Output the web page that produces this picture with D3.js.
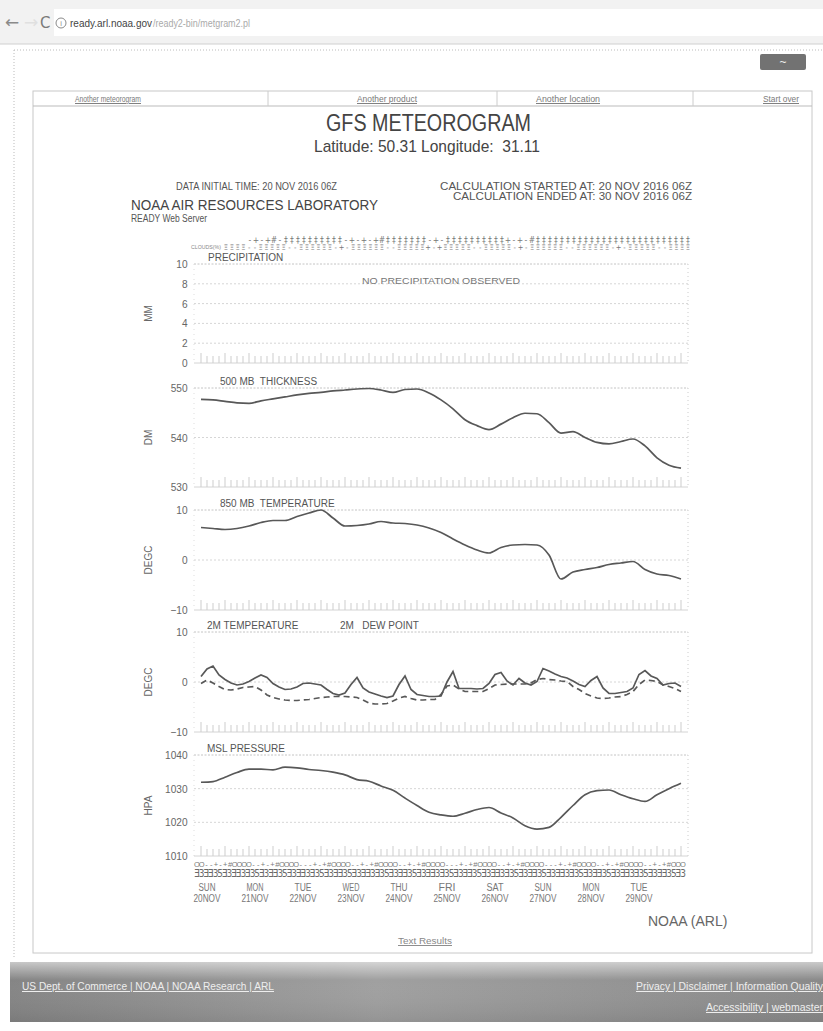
<!DOCTYPE html>
<html>
<head>
<meta charset="utf-8">
<script src="https://cdn.jsdelivr.net/npm/d3@7"></script>
<style>
  body { margin: 0; background: #fff; }
  svg { display: block; font-family: "Liberation Sans Narrow", "Arial Narrow", "Liberation Sans", sans-serif; }
</style>
</head>
<body>
<svg id="page" width="823" height="1031"></svg>
<script>
"use strict";

// time steps, hours after 20 NOV 2016 06Z
const HOURS_6 = d3.range(0, 241, 6);
const HOURS_3 = d3.range(0, 241, 3);

// 500 MB thickness (DM), 6-hourly
const thickness = [547.7, 547.6, 547.3, 547.0, 546.9, 547.4, 547.8, 548.2, 548.6, 548.9,
  549.1, 549.4, 549.6, 549.8, 549.9, 549.6, 549.1, 549.7, 549.8, 549.0,
  547.6, 545.8, 543.6, 542.4, 541.6, 542.7, 544.0, 544.9, 544.8, 543.0,
  540.9, 541.2, 540.0, 539.0, 538.7, 539.2, 539.7, 538.3, 535.9, 534.4, 533.8];

// 850 MB temperature (DEGC), 6-hourly
const temp850 = [6.5, 6.3, 6.1, 6.3, 6.8, 7.5, 7.9, 7.9, 8.7, 9.4,
  10.0, 8.4, 6.8, 6.9, 7.2, 7.7, 7.4, 7.3, 7.0, 6.4,
  5.5, 4.2, 3.0, 2.0, 1.4, 2.5, 3.0, 3.1, 3.0, 1.0,
  -3.8, -2.4, -1.9, -1.5, -0.9, -0.6, -0.3, -1.9, -2.8, -3.1, -3.8];

// MSL pressure (HPA), 6-hourly
const mslp = [1031.9, 1032.1, 1033.4, 1034.8, 1035.8, 1035.8, 1035.6, 1036.4, 1036.2, 1035.7,
  1035.4, 1034.9, 1034.1, 1032.7, 1032.2, 1030.8, 1029.5, 1027.2, 1025.0, 1023.0,
  1022.2, 1021.8, 1022.7, 1023.8, 1024.4, 1022.8, 1021.3, 1019.0, 1018.0, 1018.5,
  1021.5, 1025.0, 1028.2, 1029.4, 1029.6, 1028.2, 1027.0, 1026.2, 1028.2, 1030.0, 1031.6];

// 2M temperature (DEGC), 3-hourly
const temp2m = [1.1, 2.6, 3.2, 1.4, 0.5, -0.2, -0.6, -0.4,
  0.1, 0.8, 1.4, 0.9, -0.3, -1.0, -1.5, -1.4,
  -1.0, -0.3, -0.2, -0.4, -0.6, -1.5, -2.3, -2.6,
  -2.2, -0.5, 0.9, -1.2, -2.0, -2.4, -2.8, -3.1,
  -2.8, -0.5, 1.2, -1.5, -2.5, -2.7, -2.9, -2.9,
  -2.8, 0.0, 2.1, -1.3, -1.3, -1.3, -1.4, -1.3,
  -0.3, 1.5, 1.9, 0.2, -0.6, 0.7, -0.2, -0.6,
  0.1, 2.7, 2.2, 1.6, 1.1, 0.8, 0.2, -0.5,
  -0.9, 0.3, 1.1, -1.2, -2.3, -2.3, -2.1, -1.9,
  -1.2, 1.5, 2.3, 1.2, 0.7, -0.6, -0.3, -0.2, -0.9];

// 2M dew point (DEGC), 3-hourly
const dew2m = [-0.3, 0.4, -0.2, -0.9, -1.5, -1.6, -1.4, -1.1,
  -1.0, -0.9, -1.6, -2.6, -3.1, -3.4, -3.6, -3.7,
  -3.7, -3.6, -3.5, -3.3, -3.1, -3.0, -2.9, -2.9,
  -2.9, -3.0, -3.1, -3.6, -4.2, -4.4, -4.4, -4.3,
  -3.8, -3.2, -2.9, -3.3, -3.6, -3.6, -3.5, -3.5,
  -2.5, -0.8, -0.6, -1.4, -1.9, -1.9, -1.9, -1.9,
  -1.3, -0.6, -0.5, -0.4, -0.4, -0.4, -0.4, -0.2,
  0.5, 0.7, 0.5, 0.4, 0.2, 0.1, -0.9, -1.5,
  -2.3, -2.8, -3.2, -3.3, -3.2, -3.0, -2.9, -2.5,
  -1.9, -0.5, 0.4, 0.3, 0.1, -0.6, -0.9, -1.3, -1.9];

const dayNames = ["SUN", "MON", "TUE", "WED", "THU", "FRI", "SAT", "SUN", "MON", "TUE"];
const dayDates = ["20NOV", "21NOV", "22NOV", "23NOV", "24NOV", "25NOV", "26NOV", "27NOV", "28NOV", "29NOV"];

const precipTicks = [0, 2, 4, 6, 8, 10];
const thickTicks = [530, 540, 550];
const t850Ticks = [-10, 0, 10];
const t2mTicks = [-10, 0, 10];
const mslTicks = [1010, 1020, 1030, 1040];

// symbol rows (clouds on top, winds at bottom)
const cloudRowA = "-+-+#-\u2021\u2021\u2021\u2021\u2021\u2021\u2021\u2021\u2021\u2021-+-+-+#\u2021\u2021\u2021\u2021\u2021\u2021\u2021-+-\u2021\u2021\u2021\u2021\u2021\u2021\u2021\u2021\u2021\u2021+-+-#\u2021\u2021\u2021\u2021\u2021\u2021\u2021\u2021\u2021\u2021\u2021\u2021\u2021\u2021\u2021\u2021\u2021\u2021\u2021\u2021\u2021\u2021\u2021\u2021\u2021\u2021";
const cloudRowB = "\u039e\u039e\u039e\u039e--\u039e\u039e\u039e\u039e\u039e--\u039e\u039e\u039e\u039e\u039e\u039e-+-\u039e\u039e\u039e\u039e\u039e\u039e--\u039e\u039e\u039e\u039e\u039e+-+\u039e\u039e\u039e\u039e\u039e--\u039e\u039e\u039e\u039e\u039e-+-\u039e\u039e\u039e\u039e\u039e\u039e--\u039e\u039e\u039e\u039e\u039e\u039e-+-\u039e\u039e\u039e\u039e\u039e--\u039e\u039e\u039e\u039e";
const windRowA = "OO--+-+#OOOO--+-+#OOOO---+-+#OOOO--+-+#OOOO--+-+#OOOO---+-+#OOOO--+-+#OOOO---+-+#OOOO--+-+#OOOO--+-+#OOO";
const windRowB = "\u018e3\u018e\u018e35\u018e3\u018e\u018e3\u018e35\u018e3\u018e\u018e35\u018e3\u018e\u018e3\u018e35\u018e3\u018e\u018e35\u018e3\u018e\u018e3\u018e35\u018e3\u018e\u018e35\u018e3\u018e\u018e3\u018e35\u018e3\u018e\u018e35\u018e3\u018e\u018e3\u018e35\u018e3\u018e\u018e35\u018e3\u018e\u018e3\u018e35\u018e3\u018e\u018e35\u018e3\u018e\u018e3\u018e35\u018e3\u018e\u018e35\u018e3";

const navLinks = ["Another meteorogram", "Another product", "Another location", "Start over"];

/* ---- layout ---- */
const PLOT = { left: 194, right: 688 };
const INK = "#585858";
const NAV_POS = [[108, 66], [387, 60], [568, 64], [781, 36]]; // centre, width

const panels = [
  { name: "PRECIPITATION", unit: "MM", domain: [0, 10], ticks: precipTicks, top: 264, bottom: 363, lx: 208 },
  { name: "500 MB  THICKNESS", unit: "DM", domain: [530, 550], ticks: thickTicks, top: 388, bottom: 487, lx: 220 },
  { name: "850 MB  TEMPERATURE", unit: "DEGC", domain: [-10, 10], ticks: t850Ticks, top: 510, bottom: 610, lx: 220 },
  { name: "2M TEMPERATURE", unit: "DEGC", domain: [-10, 10], ticks: t2mTicks, top: 632, bottom: 732, lx: 207 },
  { name: "MSL PRESSURE", unit: "HPA", domain: [1010, 1040], ticks: mslTicks, top: 755, bottom: 856, lx: 207 }
];
panels.forEach((p) => {
  p.y = d3.scaleLinear().domain(p.domain).range([p.bottom, p.top]);
});

const xScale = d3.scaleLinear().domain([0, 240]).range([201, 681]);

const svg = d3.select("#page");

// squeeze a text to a given width (the original font is a narrow one)
function fit(sel, w) {
  return sel.attr("textLength", w).attr("lengthAdjust", "spacingAndGlyphs");
}

// browser chrome
svg.append("rect").attr("width", 823).attr("height", 44).attr("fill", "#f2f2f2");
svg.append("rect").attr("x", 54).attr("y", 9).attr("width", 769).attr("height", 27).attr("fill", "#fff");
svg.append("line").attr("x1", 0).attr("x2", 823).attr("y1", 44).attr("y2", 44).attr("stroke", "#d0d0d0");
svg.append("text").attr("x", 5).attr("y", 28).attr("font-size", 17).attr("fill", "#8a8a8a")
  .style("font-family", "DejaVu Sans").text("\u2190");
svg.append("text").attr("x", 24).attr("y", 28).attr("font-size", 17).attr("fill", "#e0e0e0")
  .style("font-family", "DejaVu Sans").text("\u2192");
svg.append("text").attr("x", 40).attr("y", 28).attr("font-size", 15).attr("fill", "#7a7a7a")
  .style("font-family", "DejaVu Sans").text("C");
svg.append("circle").attr("cx", 61).attr("cy", 23).attr("r", 5).attr("fill", "none").attr("stroke", "#8a8a8a");
svg.append("text").attr("x", 61).attr("y", 26).attr("font-size", 7.5).attr("fill", "#8a8a8a")
  .attr("text-anchor", "middle").text("i");
fit(svg.append("text").attr("x", 70).attr("y", 27).attr("font-size", 11).attr("fill", "#444")
  .style("font-family", "Liberation Sans").text("ready.arl.noaa.gov"), 82);
fit(svg.append("text").attr("x", 153).attr("y", 27).attr("font-size", 11).attr("fill", "#aaa")
  .style("font-family", "Liberation Sans").text("/ready2-bin/metgram2.pl"), 97);

// page frame
svg.append("line").attr("x1", 14).attr("x2", 823).attr("y1", 50).attr("y2", 50)
  .attr("stroke", "#bbb").attr("stroke-dasharray", "1,2");
svg.append("line").attr("x1", 14).attr("x2", 14).attr("y1", 50).attr("y2", 958)
  .attr("stroke", "#bbb").attr("stroke-dasharray", "1,2");
svg.append("rect").attr("x", 760).attr("y", 54).attr("width", 46).attr("height", 16).attr("rx", 2)
  .attr("fill", "#727272");
svg.append("text").attr("x", 783).attr("y", 66).attr("font-size", 12).attr("fill", "#eee")
  .attr("text-anchor", "middle").text("~");

// nav table and content box
svg.append("rect").attr("x", 33).attr("y", 91).attr("width", 779).attr("height", 862)
  .attr("fill", "none").attr("stroke", "#c8c8c8");
svg.append("line").attr("x1", 33).attr("x2", 812).attr("y1", 106).attr("y2", 106).attr("stroke", "#bbb");
[268, 497, 693].forEach((x) => {
  svg.append("line").attr("x1", x).attr("x2", x).attr("y1", 91).attr("y2", 106).attr("stroke", "#ccc");
});
svg.selectAll(".nav").data(navLinks).enter().append("text")
  .attr("x", (d, i) => NAV_POS[i][0] - NAV_POS[i][1] / 2)
  .attr("y", 102).attr("font-size", 9.5)
  .attr("fill", "#7a7a7a").attr("text-decoration", "underline").text((d) => d)
  .each(function (d, i) { fit(d3.select(this), NAV_POS[i][1]); });

// titles
fit(svg.append("text").attr("x", 326).attr("y", 131)
  .attr("font-size", 23).attr("fill", "#444").text("GFS METEOROGRAM"), 205);
fit(svg.append("text").attr("x", 314).attr("y", 152)
  .attr("font-size", 17).attr("fill", "#444").style("white-space", "pre")
  .text("Latitude: 50.31 Longitude:  31.11"), 226);

fit(svg.append("text").attr("x", 176).attr("y", 190).attr("font-size", 10.5).attr("fill", "#555")
  .text("DATA INITIAL TIME: 20 NOV 2016 06Z"), 161);
fit(svg.append("text").attr("x", 440).attr("y", 190).attr("font-size", 11).attr("fill", "#555")
  .text("CALCULATION STARTED AT: 20 NOV 2016 06Z"), 252);
fit(svg.append("text").attr("x", 453).attr("y", 200).attr("font-size", 11).attr("fill", "#555")
  .text("CALCULATION ENDED AT: 30 NOV 2016 06Z"), 239);
fit(svg.append("text").attr("x", 131).attr("y", 210).attr("font-size", 15).attr("fill", "#444")
  .text("NOAA AIR RESOURCES LABORATORY"), 247);
fit(svg.append("text").attr("x", 131).attr("y", 222).attr("font-size", 10).attr("fill", "#555")
  .text("READY Web Server"), 76);

// cloud rows
fit(svg.append("text").attr("x", 191).attr("y", 249).attr("font-size", 6).attr("fill", "#888")
  .text("CLOUDS(%)"), 30);
const cloudA = d3.scalePoint().domain(d3.range(cloudRowA.length)).range([250, 688]);
svg.selectAll(".cloudA").data(cloudRowA.split("")).enter().append("text")
  .attr("x", (d, i) => cloudA(i)).attr("y", 243).attr("font-size", 8.5).attr("fill", "#777")
  .attr("text-anchor", "middle").style("font-family", "DejaVu Sans Condensed, DejaVu Sans").text((d) => d);
const cloudB = d3.scalePoint().domain(d3.range(cloudRowB.length)).range([226, 688]);
svg.selectAll(".cloudB").data(cloudRowB.split("")).enter().append("text")
  .attr("x", (d, i) => cloudB(i)).attr("y", 250).attr("font-size", 7.5).attr("fill", "#777")
  .attr("text-anchor", "middle").style("font-family", "DejaVu Sans Condensed, DejaVu Sans").text((d) => d);

// panels
panels.forEach((p) => {
  const g = svg.append("g");
  g.append("line").attr("x1", PLOT.left).attr("x2", PLOT.right).attr("y1", p.top).attr("y2", p.top)
    .attr("stroke", "#c4c4c4").attr("stroke-dasharray", "2,1.5");
  g.append("line").attr("x1", PLOT.right).attr("x2", PLOT.right).attr("y1", p.top).attr("y2", p.bottom)
    .attr("stroke", "#ccc").attr("stroke-dasharray", "1,3");
  g.append("line").attr("x1", PLOT.left).attr("x2", PLOT.left).attr("y1", p.top).attr("y2", p.bottom)
    .attr("stroke", "#ddd").attr("stroke-dasharray", "1,4");
  g.append("line").attr("x1", PLOT.left).attr("x2", PLOT.right).attr("y1", p.bottom).attr("y2", p.bottom)
    .attr("stroke", "#d4d4d4");

  // hourly tick row at the bottom
  g.selectAll(".tk").data(HOURS_3).enter().append("line")
    .attr("x1", (d) => xScale(d)).attr("x2", (d) => xScale(d))
    .attr("y1", (d) => p.bottom - (d % 12 === 0 ? 10 : 7)).attr("y2", p.bottom)
    .attr("stroke", "#cdcdcd").attr("stroke-width", 1);

  // gridlines
  g.selectAll(".grid").data(p.ticks.filter((t) => t !== p.domain[0] && t !== p.domain[1])).enter()
    .append("line").attr("x1", PLOT.left).attr("x2", PLOT.right)
    .attr("y1", (d) => p.y(d)).attr("y2", (d) => p.y(d))
    .attr("stroke", "#d6d6d6").attr("stroke-dasharray", "2,2");

  const axis = d3.axisLeft(p.y).tickValues(p.ticks).tickFormat(d3.format("d")).tickSize(0).tickPadding(7);
  const ag = g.append("g").attr("transform", `translate(${PLOT.left},0)`).call(axis);
  ag.select(".domain").remove();
  ag.selectAll("text").attr("font-size", 11).attr("fill", "#666")
    .style("font-family", "Liberation Sans Narrow, Arial Narrow, Liberation Sans, sans-serif")
    .attr("transform", "scale(0.92,1)");

  g.append("text").attr("transform", `translate(152,${(p.top + p.bottom) / 2}) rotate(-90)`)
    .attr("text-anchor", "middle").attr("font-size", 10).attr("fill", "#666").text(p.unit);

  g.append("text").attr("x", p.lx).attr("y", p.top - 3).attr("font-size", 10).attr("fill", "#555")
    .style("white-space", "pre").text(p.name);
});

svg.append("text").attr("x", 340).attr("y", panels[3].top - 3).attr("font-size", 10).attr("fill", "#555")
  .style("white-space", "pre").text("2M   DEW POINT");
fit(svg.append("text").attr("x", 362).attr("y", 284).attr("font-size", 9).attr("fill", "#777")
  .text("NO PRECIPITATION OBSERVED"), 158);

// series
const line6 = (p) => d3.line().x((d, i) => xScale(HOURS_6[i])).y((d) => p.y(d)).curve(d3.curveMonotoneX);
const line3 = (p) => d3.line().x((d, i) => xScale(HOURS_3[i])).y((d) => p.y(d));

svg.append("path").datum(thickness).attr("d", line6(panels[1]))
  .attr("fill", "none").attr("stroke", INK).attr("stroke-width", 1.7);
svg.append("path").datum(temp850).attr("d", line6(panels[2]))
  .attr("fill", "none").attr("stroke", INK).attr("stroke-width", 1.7);
svg.append("path").datum(dew2m).attr("d", line3(panels[3]))
  .attr("fill", "none").attr("stroke", INK).attr("stroke-width", 1.7).attr("stroke-dasharray", "6,4");
svg.append("path").datum(temp2m).attr("d", line3(panels[3]))
  .attr("fill", "none").attr("stroke", INK).attr("stroke-width", 1.7);
svg.append("path").datum(mslp).attr("d", line6(panels[4]))
  .attr("fill", "none").attr("stroke", INK).attr("stroke-width", 1.7);

// wind rows
const windA = d3.scalePoint().domain(d3.range(windRowA.length)).range([197, 683]);
svg.selectAll(".windA").data(windRowA.split("")).enter().append("text")
  .attr("x", (d, i) => windA(i)).attr("y", 867).attr("font-size", 7.5).attr("fill", "#7a7a7a")
  .attr("text-anchor", "middle").text((d) => d);
const windB = d3.scalePoint().domain(d3.range(windRowB.length)).range([197, 683]);
svg.selectAll(".windB").data(windRowB.split("")).enter().append("text")
  .attr("x", (d, i) => windB(i)).attr("y", 877).attr("font-size", 10).attr("fill", "#696969")
  .attr("text-anchor", "middle").style("font-family", "DejaVu Sans Condensed, DejaVu Sans").text((d) => d);

// day labels
svg.selectAll(".dayName").data(dayNames).enter().append("text")
  .attr("x", (d, i) => xScale(i * 24 + 3)).attr("y", 891).attr("text-anchor", "middle")
  .attr("font-size", 10).attr("fill", "#777").text((d) => d)
  .each(function () { fit(d3.select(this), 17); });
svg.selectAll(".dayDate").data(dayDates).enter().append("text")
  .attr("x", (d, i) => xScale(i * 24 + 3)).attr("y", 902).attr("text-anchor", "middle")
  .attr("font-size", 10).attr("fill", "#777").text((d) => d)
  .each(function () { fit(d3.select(this), 27); });

svg.append("text").attr("x", 648).attr("y", 926).attr("font-size", 14).attr("fill", "#666")
  .text("NOAA (ARL)");
fit(svg.append("text").attr("x", 398).attr("y", 944).attr("font-size", 9.5)
  .attr("fill", "#888").attr("text-decoration", "underline").text("Text Results"), 54);

// footer
const defs = svg.append("defs");
const grad = defs.append("linearGradient").attr("id", "foot").attr("x1", 0).attr("x2", 1).attr("y1", 0).attr("y2", 0);
grad.append("stop").attr("offset", "0%").attr("stop-color", "#858585");
grad.append("stop").attr("offset", "45%").attr("stop-color", "#a0a0a0");
grad.append("stop").attr("offset", "100%").attr("stop-color", "#8a8a8a");
const vgrad = defs.append("linearGradient").attr("id", "footv").attr("x1", 0).attr("x2", 0).attr("y1", 0).attr("y2", 1);
vgrad.append("stop").attr("offset", "0%").attr("stop-color", "#fff").attr("stop-opacity", 0.55);
vgrad.append("stop").attr("offset", "30%").attr("stop-color", "#fff").attr("stop-opacity", 0);
vgrad.append("stop").attr("offset", "100%").attr("stop-color", "#000").attr("stop-opacity", 0.08);
svg.append("rect").attr("x", 10).attr("y", 962).attr("width", 813).attr("height", 60).attr("fill", "url(#foot)");
svg.append("rect").attr("x", 10).attr("y", 962).attr("width", 813).attr("height", 60).attr("fill", "url(#footv)");
fit(svg.append("text").attr("x", 22).attr("y", 990).attr("font-size", 10).attr("fill", "#eee")
  .attr("text-decoration", "underline").text("US Dept. of Commerce | NOAA | NOAA Research | ARL"), 252);
fit(svg.append("text").attr("x", 636).attr("y", 990).attr("font-size", 10).attr("fill", "#eee")
  .attr("text-decoration", "underline").text("Privacy | Disclaimer | Information Quality"), 187);
fit(svg.append("text").attr("x", 706).attr("y", 1011).attr("font-size", 10).attr("fill", "#eee")
  .attr("text-decoration", "underline").text("Accessibility | webmaster"), 117);
</script>
</body>
</html>
